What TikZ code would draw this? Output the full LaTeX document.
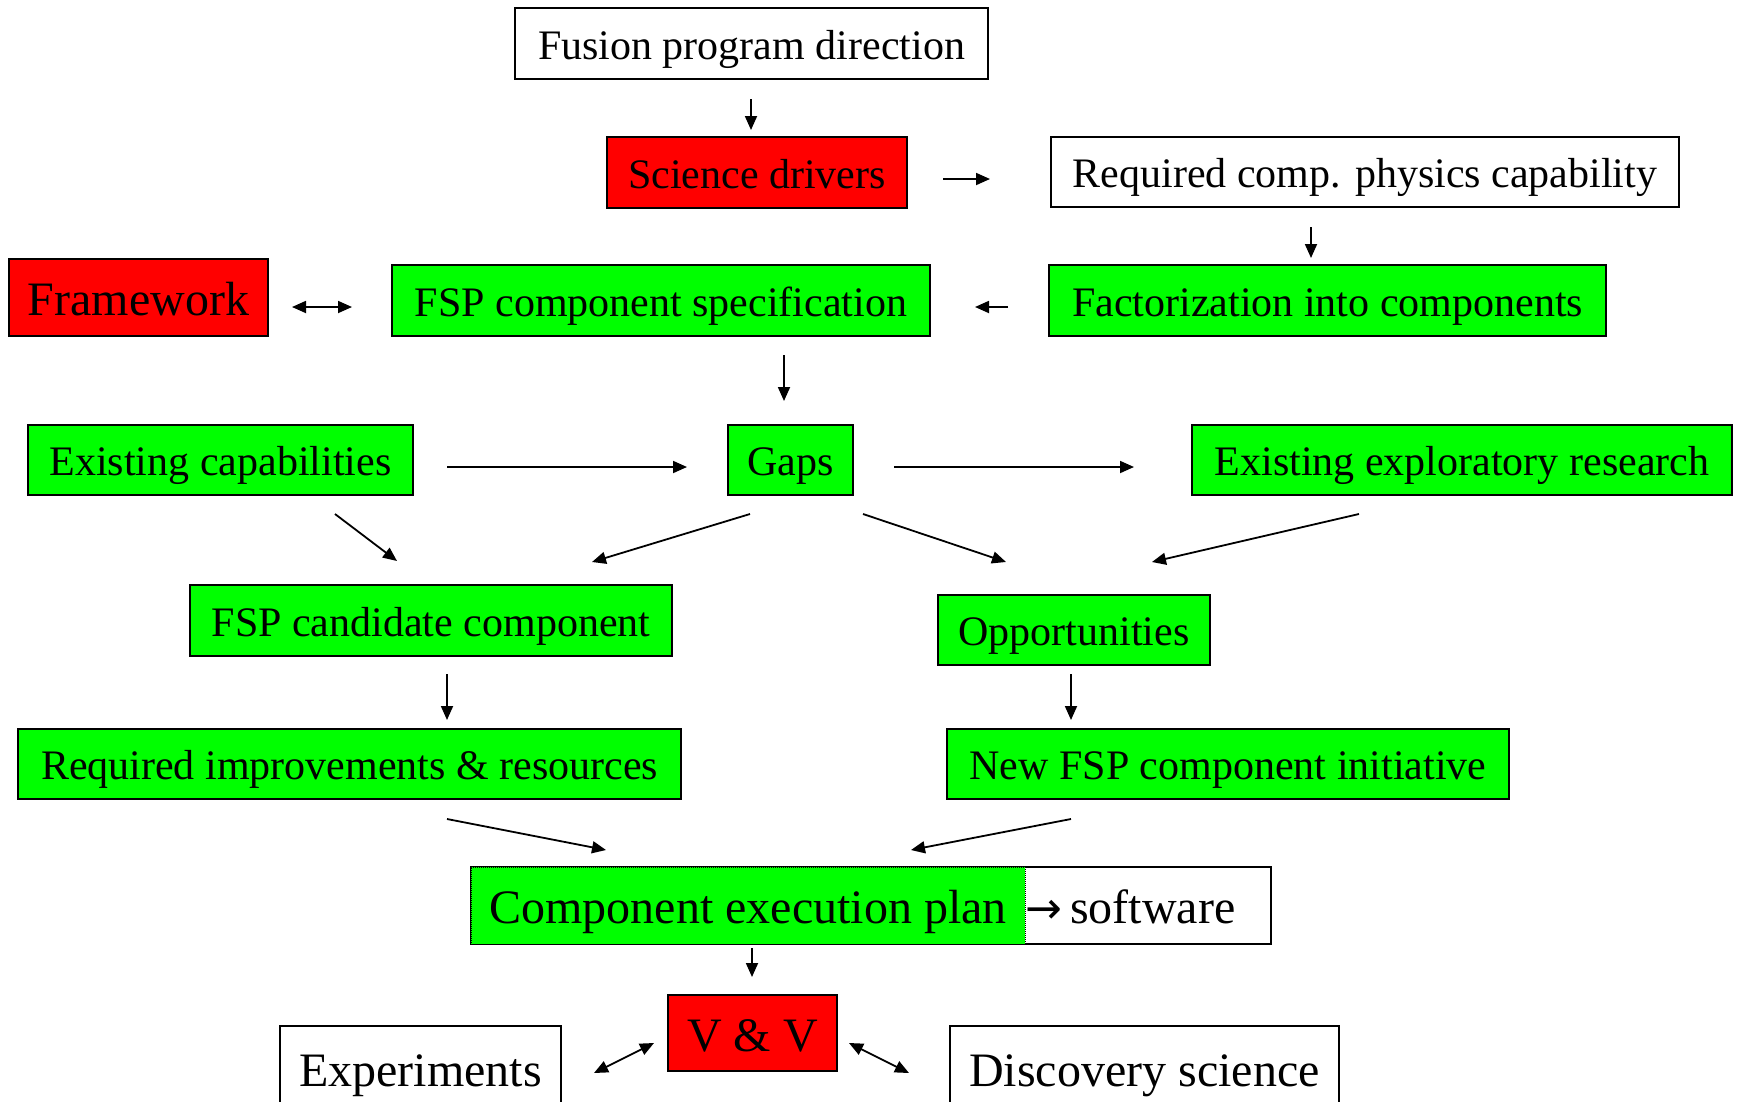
\documentclass[tikz,border=0pt]{standalone}
\usepackage{fontspec}
\setmainfont{Liberation Serif}
\newfontfamily\arrowfont{DejaVu Sans}
\usetikzlibrary{arrows.meta}
\definecolor{boxred}{RGB}{255,0,0}
\definecolor{boxgreen}{RGB}{0,255,0}
\tikzset{
  box/.style={draw=black, line width=2pt, rectangle, inner sep=0pt,
    font=\fontsize{42}{50}\selectfont, text height=31pt, text depth=0pt},
  big/.style={font=\fontsize{48}{56}\selectfont, text height=36pt, text depth=0pt},
  redbox/.style={box, fill=boxred},
  greenbox/.style={box, fill=boxgreen},
  whitebox/.style={box, fill=white},
  arr/.style={line width=1.8pt, -{Triangle[length=14pt,width=12pt]}},
  darr/.style={line width=1.8pt, {Triangle[length=14pt,width=12pt]}-{Triangle[length=14pt,width=12pt]}},
}
\begin{document}
\begin{tikzpicture}[x=1pt, y=-1pt]
\useasboundingbox (0,0) rectangle (1738,1101);

% boxes, top to bottom
\node[whitebox, line width=2.8pt, minimum width=473pt, minimum height=71pt] (fusion) at (751.5,43.5) {Fusion program direction};
\node[redbox, minimum width=300pt, minimum height=71pt] (science) at (757,172.5) {Science drivers};
\node[whitebox, minimum width=628pt, minimum height=70pt] (required) at (1365,172) {Required comp. physics capability};
\node[redbox, big, minimum width=259pt, minimum height=77pt] (framework) at (138.5,297.5) {Framework};
\node[greenbox, minimum width=538pt, minimum height=71pt] (spec) at (661,300.5) {FSP component specification};
\node[greenbox, minimum width=557pt, minimum height=71pt] (factor) at (1327.5,300.5) {Factorization into components};
\node[greenbox, minimum width=385pt, minimum height=70pt] (existcap) at (220.5,460) {Existing capabilities};
\node[greenbox, minimum width=125pt, minimum height=70pt] (gaps) at (790.5,460) {Gaps};
\node[greenbox, minimum width=540pt, minimum height=70pt] (explor) at (1462,460) {Existing exploratory research};
\node[greenbox, minimum width=482pt, minimum height=71pt] (cand) at (431,620.5) {FSP candidate component};
\node[greenbox, minimum width=272pt, minimum height=70pt] (opp) at (1074,630) {Opportunities};
\node[greenbox, minimum width=663pt, minimum height=70pt] (improve) at (349.5,764) {Required improvements \& resources};
\node[greenbox, minimum width=562pt, minimum height=70pt] (newfsp) at (1228,764) {New FSP component initiative};

% execution plan: white frame with the green part laid over its left side
\node[whitebox, minimum width=800pt, minimum height=77pt] (planbox) at (871,905.5) {};
\node[box, big, fill=boxgreen, line width=1pt, densely dotted, minimum width=554pt, minimum height=77pt] (plan) at (748,905.5) {Component execution plan};
\node[big, inner sep=0pt, anchor=west] (soft) at (1025,905.5) {{\arrowfont\fontsize{44}{50}\selectfont →}\,software};

\node[redbox, big, minimum width=169pt, minimum height=76pt] (vv) at (752.5,1033) {V \& V};
\node[whitebox, big, minimum width=281pt, minimum height=84pt] (exper) at (420.5,1068) {Experiments};
\node[whitebox, big, minimum width=389pt, minimum height=84pt] (disc) at (1144.5,1068) {Discovery science};

% connector end points
\coordinate (fusion-o) at (751,99);    \coordinate (science-i) at (751,130);
\coordinate (science-o) at (943,179);  \coordinate (required-i) at (990,179);
\coordinate (required-o) at (1311,227);\coordinate (factor-i) at (1311,258);
\coordinate (framework-e) at (292,307);\coordinate (spec-w) at (352,307);
\coordinate (factor-o) at (1008,307);  \coordinate (spec-i) at (975,307);
\coordinate (spec-o) at (784,355);     \coordinate (gaps-i) at (784,401);
\coordinate (existcap-o) at (447,467); \coordinate (gaps-w) at (687,467);
\coordinate (gaps-e) at (894,467);     \coordinate (explor-i) at (1134,467);
\coordinate (existcap-s) at (335,514); \coordinate (cand-l) at (397,561);
\coordinate (gaps-sl) at (750,514);    \coordinate (cand-r) at (592,562);
\coordinate (gaps-sr) at (863,514);    \coordinate (opp-l) at (1006,562);
\coordinate (explor-s) at (1359,514);  \coordinate (opp-r) at (1152,562);
\coordinate (cand-o) at (447,674);     \coordinate (improve-i) at (447,720);
\coordinate (opp-o) at (1071,674);     \coordinate (newfsp-i) at (1071,720);
\coordinate (improve-o) at (447,819);  \coordinate (plan-l) at (606,850);
\coordinate (newfsp-o) at (1071,819);  \coordinate (plan-r) at (911,850);
\coordinate (plan-o) at (752,948);     \coordinate (vv-i) at (752,977);
\coordinate (exper-e) at (594,1073);   \coordinate (vv-w) at (654,1043);
\coordinate (vv-e) at (849,1043);      \coordinate (disc-w) at (909,1073);

% connectors
\draw[arr] (fusion-o) -- (science-i);
\draw[arr] (science-o) -- (required-i);
\draw[arr] (required-o) -- (factor-i);
\draw[darr] (framework-e) -- (spec-w);
\draw[arr] (factor-o) -- (spec-i);
\draw[arr] (spec-o) -- (gaps-i);
\draw[arr] (existcap-o) -- (gaps-w);
\draw[arr] (gaps-e) -- (explor-i);
\draw[arr] (existcap-s) -- (cand-l);
\draw[arr] (gaps-sl) -- (cand-r);
\draw[arr] (gaps-sr) -- (opp-l);
\draw[arr] (explor-s) -- (opp-r);
\draw[arr] (cand-o) -- (improve-i);
\draw[arr] (opp-o) -- (newfsp-i);
\draw[arr] (improve-o) -- (plan-l);
\draw[arr] (newfsp-o) -- (plan-r);
\draw[arr] (plan-o) -- (vv-i);
\draw[darr] (exper-e) -- (vv-w);
\draw[darr] (vv-e) -- (disc-w);
\end{tikzpicture}
\end{document}
